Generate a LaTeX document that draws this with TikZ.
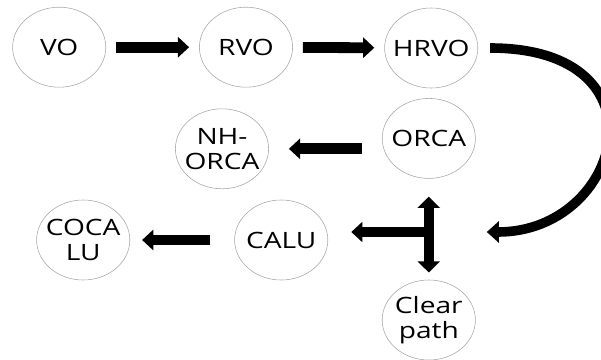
\documentclass[tikz,border=0pt]{standalone}
\usepackage{fontspec}
\newfontfamily\labelfont[FakeStretch=1.25]{Open Sans}
\usetikzlibrary{shapes.geometric,arrows.meta}

\begin{document}
\begin{tikzpicture}[
    algo/.style={ellipse, draw=gray!70, thin, minimum width=2.33cm,
        minimum height=2cm, inner xsep=-0.2cm, inner ysep=0pt, align=center,
        font=\labelfont\fontsize{16}{17.8}\selectfont},
    fat/.style={line width=0.27cm, -{Triangle[length=0.28cm,width=0.5cm]}}]
\useasboundingbox (0,0) rectangle (15.025,-9);

% the methods
\node[algo] (VO)     at (1.48,-1.18) {VO};
\node[algo] (RVO)    at (6.15,-1.18) {RVO};
\node[algo] (HRVO)   at (10.78,-1.2) {HRVO};
\node[algo] (ORCA)   at (10.72,-3.46) {ORCA};
\node[algo] (NH)     at (5.55,-3.72) {NH-\\ORCA};
\node[algo] (COCALU) at (2.08,-6.0) {COCA\\LU};
\node[algo] (CALU)   at (7.03,-6.0) {CALU};
\node[algo] (Clear)  at (10.72,-8.0) {Clear\\path};
\coordinate (tee) at (10.72,-5.8);

% straight steps
\draw[fat, shorten <=0.25cm, shorten >=0.25cm] (VO) -- (RVO);
\draw[fat, shorten <=0.25cm, shorten >=0.25cm] (RVO) -- (HRVO);
\draw[fat, shorten <=0.5cm, shorten >=0.5cm] (ORCA.west |- NH) -- (NH.east);
\draw[fat, shorten <=0.6cm, shorten >=0.3cm] (CALU) -- (COCALU);

% the T between ORCA, CALU and Clear path
\draw[line width=0.26cm, {Triangle[length=0.28cm,width=0.55cm]}-{Triangle[length=0.28cm,width=0.55cm]},
    shorten <=0.45cm, shorten >=0.18cm] (ORCA) -- (Clear);
\draw[fat, shorten >=0.58cm] (tee) -- (CALU.east |- tee);

% big bend from HRVO back down
\draw[line width=0.24cm, -{Triangle[length=0.3cm,width=0.52cm]},
    shorten <=0.3cm, shorten >=1.45cm] (HRVO.east) to[out=0,in=0,looseness=2.6] (tee);

\end{tikzpicture}
\end{document}
